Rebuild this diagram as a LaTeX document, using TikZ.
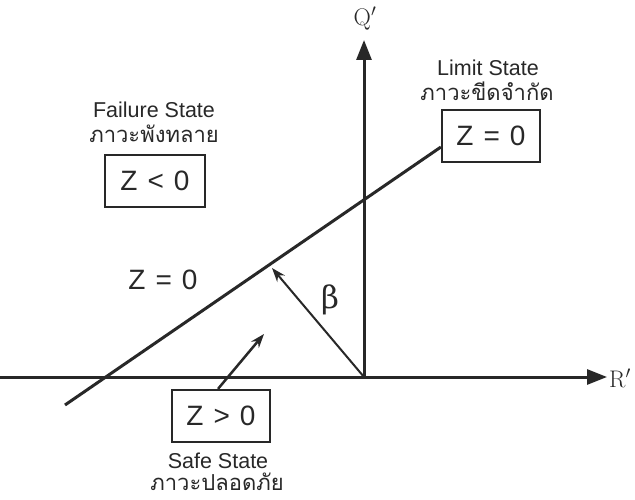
\documentclass[tikz,border=0pt]{standalone}
\usepackage{fontspec}
\newfontfamily\sansfont{Liberation Sans}
\newfontfamily\thaifont[Script=Thai]{Loma}
\newfontfamily\grkfont{DejaVu Serif}
\usetikzlibrary{arrows.meta}
\definecolor{ink}{RGB}{40,40,40}
\tikzset{
  axis/.style={draw=ink, line width=3pt, -{Triangle[length=20pt,width=15pt]}},
  statebox/.style={draw=ink, line width=2.2pt, minimum width=98pt, minimum height=52pt, inner sep=0pt, font=\sansfont\fontsize{28}{30}\selectfont, text=ink},
  caption/.style={font=\sansfont\fontsize{21.5}{23}\selectfont, text=ink, inner sep=0pt},
  thai/.style={font=\thaifont\fontsize{22}{24}\selectfont, text=ink, inner sep=0pt},
  axlabel/.style={font=\fontsize{24}{26}\selectfont, text=ink, inner sep=0pt},
  pointer/.style={draw=ink, line width=2pt, -{Stealth[length=14pt,width=10pt]}}
}
\newcommand{\gap}{\hspace{10pt}}
\begin{document}
\begin{tikzpicture}[x=1pt,y=-1pt]
\useasboundingbox[fill=white] (0,0) rectangle (635,500);
% axes
\coordinate (hL) at (0,377);
\coordinate (hR) at (607,377);
\coordinate (O) at (364,377);
\coordinate (vT) at (364,40);
\draw[axis] (hL) -- (hR);
\draw[axis] (O) -- (vT);
\node[axlabel, anchor=west] (Rl) at (609,378) {R$'$};
\node[axlabel] (Ql) at (365,19) {Q$'$};
% boxes
\node[statebox] (lim) at (491,136) {Z\gap=\gap0};
\node[statebox, minimum width=100pt] (fail) at (155,181) {Z\gap<\gap0};
\node[statebox] (safe) at (221,416) {Z\gap>\gap0};
% limit line
\coordinate (L1) at (65,405);
\draw[draw=ink, line width=3pt] (L1) -- ([yshift=-11pt]lim.west);
% beta arrow
\coordinate (bt) at (272,268);
\draw[pointer] (O) -- (bt);
\node[font=\grkfont\fontsize{31}{33}\selectfont, text=ink] (beta) at (330,300) {β};
% safe arrow
\coordinate (st) at (264,334);
\draw[pointer, line width=2.5pt] ([xshift=-3pt]safe.north) -- (st);
% labels
\node[caption] (fs) at (154,110) {Failure State};
\node[thai] (fst) at (154,134) {ภาวะพังทลาย};
\node[caption] (ls) at (488,68) {Limit State};
\node[thai] (lst) at (487,91) {ภาวะขีดจำกัด};
\node[caption] (ss) at (218,461) {Safe State};
\node[thai] (sst) at (217,482) {ภาวะปลอดภัย};
\node[statebox, draw=none] (zl) at (163,280) {Z\gap=\gap0};
\end{tikzpicture}
\end{document}
